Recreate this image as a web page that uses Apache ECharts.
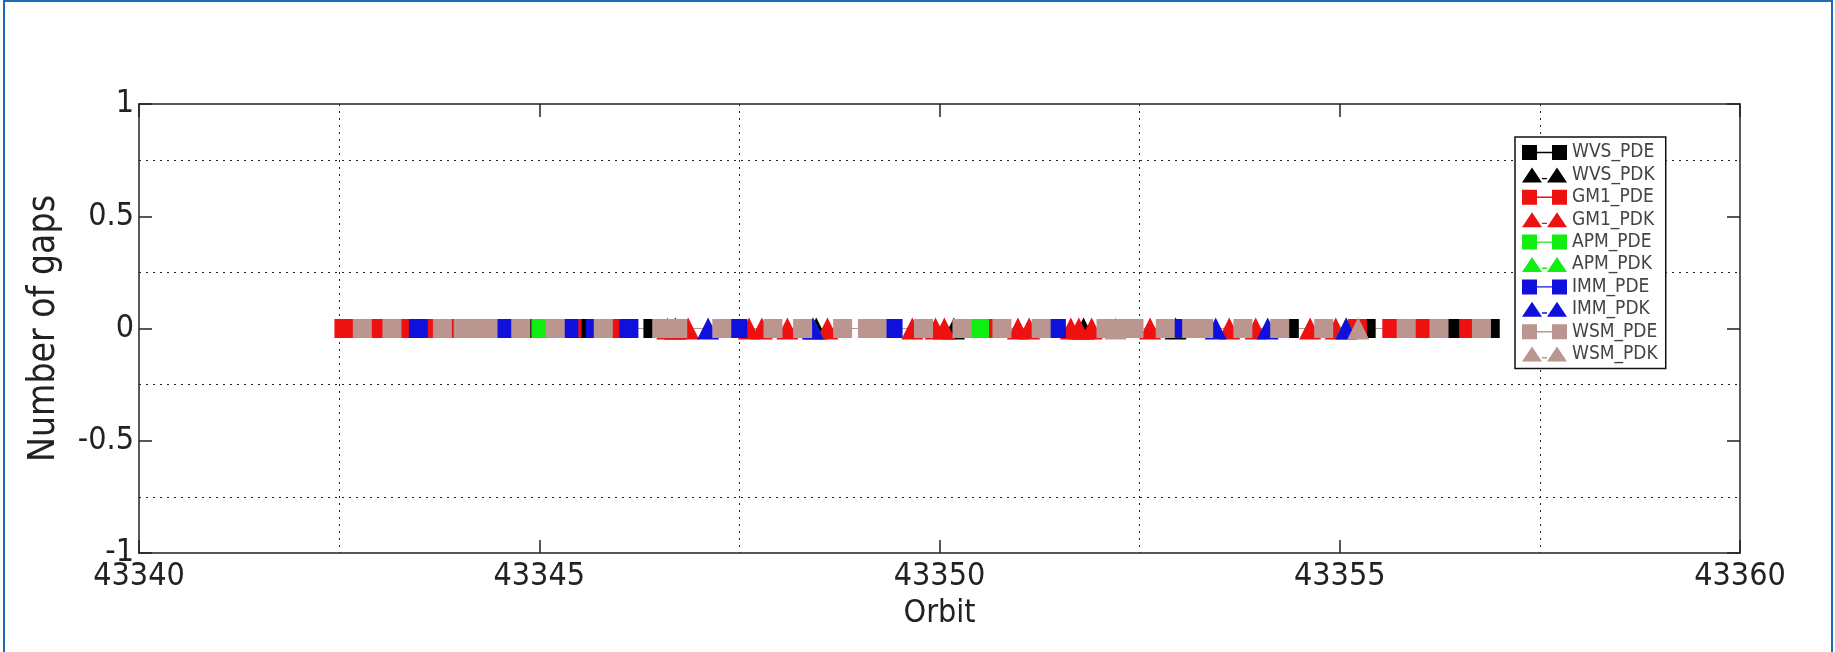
<!DOCTYPE html>
<html>
<head>
<meta charset="utf-8">
<script src="https://cdn.jsdelivr.net/npm/echarts@6/dist/echarts.min.js"></script>
<style>
html,body{margin:0;padding:0;background:#fff;}
#chart{width:1835px;height:652px;}
</style>
</head>
<body>
<div id="chart"></div>
<script>
// ---- data (orbit, number of gaps) ----
const WVS_PDE = [[43344.90,0],[43345.61,0],[43345.92,0],[43346.42,0],[43352.97,0],[43354.37,0],[43355.33,0],[43355.93,0],[43356.39,0],[43356.88,0]];
const WVS_PDK = [[43346.70,0],[43348.46,0],[43350.18,0],[43351.80,0],[43352.95,0]];
const GM1_PDE = [[43342.56,0],[43342.97,0],[43343.32,0],[43343.64,0],[43343.91,0],[43344.63,0],[43345.41,0],[43345.95,0],[43350.62,0],[43355.22,0],[43355.65,0],[43356.01,0],[43356.61,0]];
const GM1_PDK = [[43346.60,0],[43346.86,0],[43347.62,0],[43347.78,0],[43348.10,0],[43348.60,0],[43349.66,0],[43349.95,0],[43350.06,0],[43350.98,0],[43351.12,0],[43351.64,0],[43351.74,0],[43351.90,0],[43352.63,0],[43353.62,0],[43353.95,0],[43354.63,0],[43354.95,0]];
const APM_PDE = [[43345.02,0],[43350.50,0]];
const APM_PDK = [[43348.42,0],[43355.08,0]];
const IMM_PDE = [[43343.49,0],[43344.53,0],[43345.37,0],[43345.70,0],[43346.12,0],[43347.48,0],[43349.42,0],[43351.46,0],[43353.03,0]];
const IMM_PDK = [[43347.11,0],[43348.42,0],[43353.45,0],[43354.10,0],[43355.08,0]];
const WSM_PDE = [[43342.79,0],[43343.16,0],[43343.79,0],[43344.05,0],[43344.22,0],[43344.36,0],[43344.77,0],[43345.20,0],[43345.80,0],[43346.53,0],[43346.73,0],[43347.28,0],[43347.92,0],[43348.29,0],[43348.79,0],[43349.10,0],[43349.22,0],[43349.80,0],[43350.28,0],[43350.78,0],[43351.27,0],[43352.08,0],[43352.25,0],[43352.43,0],[43352.82,0],[43353.15,0],[43353.30,0],[43353.79,0],[43354.25,0],[43354.80,0],[43355.83,0],[43356.24,0],[43356.77,0]];
const WSM_PDK = [[43352.20,0],[43355.23,0]];

const X_MIN = 43340, X_MAX = 43360, X_STEP = 5;
const Y_MIN = -1, Y_MAX = 1, Y_STEP = 0.5;

const FONT = "'DejaVu Sans Condensed', 'DejaVu Sans', sans-serif";
const SQUARE_ICON = 'path://M0,0h15v15h-15z M15,6.8h15v1.4h-15z M30,0h15v15h-15z';
const TRI_ICON = 'path://M0,15L10,0L20,15z M20,10.5h5v1.4h-5z M25,15L35,0L45,15z';

const seriesDefs = [
  ['WVS_PDE', WVS_PDE, 'rect', '#000000'],
  ['WVS_PDK', WVS_PDK, 'triangle', '#000000'],
  ['GM1_PDE', GM1_PDE, 'rect', '#ee1111'],
  ['GM1_PDK', GM1_PDK, 'triangle', '#ee1111'],
  ['APM_PDE', APM_PDE, 'rect', '#11ee11'],
  ['APM_PDK', APM_PDK, 'triangle', '#11ee11'],
  ['IMM_PDE', IMM_PDE, 'rect', '#1010dd'],
  ['IMM_PDK', IMM_PDK, 'triangle', '#1010dd'],
  ['WSM_PDE', WSM_PDE, 'rect', '#bb9690'],
  ['WSM_PDK', WSM_PDK, 'triangle', '#bb9690']
];

const series = seriesDefs.map(([name, data, sym, color]) => ({
  name, type: 'line', data,
  symbol: sym,
  symbolSize: sym === 'rect' ? 19 : 22,
  showSymbol: true,
  showAllSymbol: true,
  itemStyle: {color: color},
  lineStyle: {color: color, width: 1.2},
  emphasis: {disabled: true},
  animation: false,
  xAxisIndex: 0, yAxisIndex: 0
}));

const dotted = {color: '#222', width: 1, type: [2, 5]};
const axisLine = {show: true, onZero: false, lineStyle: {color: '#222', width: 1.5}};
const tick = {show: true, inside: true, length: 13, lineStyle: {color: '#222', width: 1.5}};

const chart = echarts.init(document.getElementById('chart'), null, {renderer: 'canvas'});
chart.setOption({
  backgroundColor: '#ffffff',
  animation: false,
  graphic: [{
    type: 'rect', silent: true, z: 100,
    shape: {x: 4, y: 1, width: 1828, height: 720},
    style: {fill: 'none', stroke: '#1b6ab3', lineWidth: 2}
  }],
  grid: {left: 139, right: 95, top: 104, bottom: 99, show: false},
  legend: {
    orient: 'vertical', left: 1515, top: 137,
    padding: [6, 8, 5, 7],
    itemWidth: 45, itemHeight: 15, itemGap: 3.4,
    backgroundColor: '#ffffff', borderColor: '#111', borderWidth: 1.5,
    selectedMode: false,
    textStyle: {fontFamily: FONT, fontSize: 19, color: '#444', lineHeight: 15, padding: [0, 0, 0, 0]},
    itemStyle: {borderWidth: 0},
    data: seriesDefs.map(([name, , sym]) => ({name, icon: sym === 'rect' ? SQUARE_ICON : TRI_ICON}))
  },
  xAxis: [{
    type: 'value', min: X_MIN, max: X_MAX, interval: X_STEP, position: 'bottom',
    name: 'Orbit', nameLocation: 'middle', nameGap: 44,
    nameTextStyle: {fontFamily: FONT, fontSize: 32, color: '#222'},
    axisLine: axisLine, axisTick: tick,
    axisLabel: {fontFamily: FONT, fontSize: 32, color: '#222', margin: 8, formatter: v => String(v)},
    splitLine: {show: false},
    minorTick: {show: false, splitNumber: 2},
    minorSplitLine: {show: true, lineStyle: dotted}
  }, {
    type: 'value', min: X_MIN, max: X_MAX, interval: X_STEP, position: 'top',
    axisLine: axisLine, axisTick: tick, axisLabel: {show: false}, splitLine: {show: false}
  }],
  yAxis: [{
    type: 'value', min: Y_MIN, max: Y_MAX, interval: Y_STEP, position: 'left',
    name: 'Number of gaps', nameLocation: 'middle', nameGap: 76,
    nameTextStyle: {fontFamily: FONT, fontSize: 37, color: '#222'},
    axisLine: axisLine, axisTick: tick,
    axisLabel: {fontFamily: FONT, fontSize: 32, color: '#222', margin: 5},
    splitLine: {show: false},
    minorTick: {show: false, splitNumber: 2},
    minorSplitLine: {show: true, lineStyle: dotted}
  }, {
    type: 'value', min: Y_MIN, max: Y_MAX, interval: Y_STEP, position: 'right',
    axisLine: axisLine, axisTick: tick, axisLabel: {show: false}, splitLine: {show: false}
  }],
  series: series
});
</script>
</body>
</html>
